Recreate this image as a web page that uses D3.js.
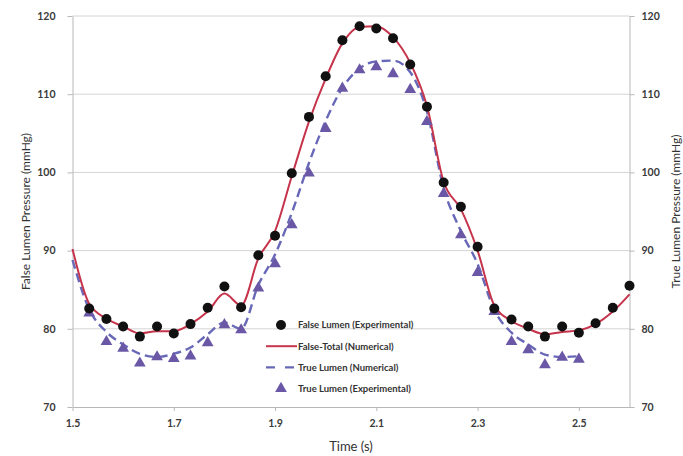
<!DOCTYPE html>
<html>
<head>
<meta charset="utf-8">
<script src="https://cdn.jsdelivr.net/npm/d3@7"></script>
<style>
  body { margin: 0; background: #fff; }
  text { font-family: Lato, "Open Sans", sans-serif; }
</style>
</head>
<body>
<div id="chart"></div>
<script>
// sample times (s)
const expTimes = [1.533, 1.567, 1.600, 1.633, 1.667, 1.700, 1.733, 1.767, 1.800, 1.833,
  1.867, 1.900, 1.933, 1.967, 2.000, 2.033, 2.067, 2.100, 2.133, 2.167,
  2.200, 2.233, 2.267, 2.300, 2.333, 2.367, 2.400, 2.433, 2.467, 2.500,
  2.533, 2.567, 2.600];
const numTimes = [1.500].concat(expTimes);

// False lumen, experimental (circles)
const falseExp = [82.6, 81.25, 80.3, 79.0, 80.3, 79.4, 80.6, 82.7, 85.4, 82.75,
  89.4, 91.9, 99.9, 107.1, 112.3, 116.9, 118.7, 118.4, 117.15, 113.8,
  108.4, 98.7, 95.6, 90.5, 82.6, 81.2, 80.3, 79.0, 80.3, 79.5,
  80.7, 82.7, 85.5];

// False-Total, numerical (solid red)
const falseNum = [90.2, 83.2, 81.3, 80.3, 79.4, 79.7, 79.7, 80.6, 82.2, 84.5, 83.0,
  89.0, 92.5, 99.5, 106.5, 112.0, 116.5, 118.6, 118.7, 117.3, 114.0,
  108.5, 98.8, 95.3, 90.0, 83.0, 81.0, 80.0, 79.3, 79.6, 79.8,
  80.6, 82.2, 84.4];

// True lumen, numerical (dashed) - ends at 2.5 s
const trueNum = [88.8, 82.5, 79.6, 78.0, 76.8, 76.4, 76.8, 77.6, 79.3, 80.8, 80.0,
  85.6, 89.5, 94.8, 101.2, 106.6, 110.8, 113.3, 114.2, 114.3, 112.8,
  107.8, 98.0, 92.5, 88.3, 82.4, 79.5, 78.0, 76.7, 76.4, 76.5];

// True lumen, experimental (triangles)
const trueExp = [82.0, 78.35, 77.5, 75.6, 76.4, 76.2, 76.5, 78.2, 80.5, 79.85,
  85.2, 88.3, 93.3, 99.9, 105.6, 110.75, 113.1, 113.5, 112.6, 110.6,
  106.5, 97.3, 92.0, 87.2, 82.2, 78.35, 77.3, 75.4, 76.35, 76.1];

const xTicks = [1.5, 1.7, 1.9, 2.1, 2.3, 2.5];
const yTicks = [70, 80, 90, 100, 110, 120];

const legendLabels = ["False Lumen (Experimental)", "False-Total (Numerical)",
  "True Lumen (Numerical)", "True Lumen (Experimental)"];

const width = 683, height = 456;
const margin = { top: 16, right: 53.5, bottom: 49, left: 72.5 };

const svg = d3.select("#chart").append("svg")
  .attr("width", width)
  .attr("height", height);

const x = d3.scaleLinear().domain([1.5, 2.6]).range([margin.left, width - margin.right]);
const y = d3.scaleLinear().domain([70, 120]).range([height - margin.bottom, margin.top]);
const y2 = d3.scaleLinear().domain([70, 120]).range([height - margin.bottom, margin.top]);

// gridlines
svg.append("g")
  .selectAll("line")
  .data(yTicks.slice(1))
  .join("line")
  .attr("x1", margin.left)
  .attr("x2", width - margin.right)
  .attr("y1", d => y(d))
  .attr("y2", d => y(d))
  .attr("stroke", "#d4d4d4")
  .attr("stroke-width", 1);

// axes
const axisStyle = g => {
  g.select(".domain").attr("stroke", "#b8b8b8");
  g.selectAll(".tick line").attr("stroke", "#b8b8b8");
  g.selectAll(".tick text")
    .attr("fill", "#3a3a3a")
    .attr("font-size", 10.5)
    .attr("font-weight", "bold")
    .style("font-family", "Lato, sans-serif");
};

svg.append("g")
  .attr("transform", `translate(0,${height - margin.bottom})`)
  .call(d3.axisBottom(x).tickValues(xTicks).tickFormat(d3.format(".1f")).tickSize(4).tickSizeOuter(0).tickPadding(9))
  .call(axisStyle);

svg.append("g")
  .attr("transform", `translate(${margin.left},0)`)
  .call(d3.axisLeft(y).tickValues(yTicks).tickSize(5).tickSizeOuter(0).tickPadding(12))
  .call(axisStyle);

svg.append("g")
  .attr("transform", `translate(${width - margin.right},0)`)
  .call(d3.axisRight(y2).tickValues(yTicks).tickSize(5).tickSizeOuter(0).tickPadding(7))
  .call(axisStyle);

// axis titles
svg.append("text")
  .attr("transform", `translate(27,${(margin.top + height - margin.bottom) / 2}) rotate(-90)`)
  .attr("text-anchor", "middle")
  .attr("dominant-baseline", "middle")
  .attr("font-size", 12)
  .attr("fill", "#333")
  .text("False Lumen Pressure (mmHg)");

svg.append("text")
  .attr("transform", `translate(677,${(margin.top + height - margin.bottom) / 2}) rotate(-90)`)
  .attr("text-anchor", "middle")
  .attr("dominant-baseline", "middle")
  .attr("font-size", 12)
  .attr("fill", "#333")
  .text("True Lumen Pressure (mmHg)");

svg.append("text")
  .attr("x", (margin.left + width - margin.right) / 2)
  .attr("y", 451)
  .attr("text-anchor", "middle")
  .attr("font-size", 13)
  .attr("fill", "#333")
  .text("Time (s)");

// lines
const line = d3.line()
  .x(d => x(d[0]))
  .y(d => y(d[1]))
  .curve(d3.curveMonotoneX);

svg.append("path")
  .datum(d3.zip(numTimes, trueNum))
  .attr("d", line)
  .attr("fill", "none")
  .attr("stroke", "#6868b8")
  .attr("stroke-width", 2.4)
  .attr("stroke-dasharray", "9,5");

svg.append("path")
  .datum(d3.zip(numTimes, falseNum))
  .attr("d", line)
  .attr("fill", "none")
  .attr("stroke", "#c6344c")
  .attr("stroke-width", 2);

// markers
const tri = d3.symbol().type(d3.symbolTriangle).size(60);

svg.append("g")
  .selectAll("path")
  .data(d3.zip(expTimes, trueExp))
  .join("path")
  .attr("d", tri)
  .attr("transform", d => `translate(${x(d[0])},${y(d[1])})`)
  .attr("fill", "#6a58a6");

svg.append("g")
  .selectAll("circle")
  .data(d3.zip(expTimes, falseExp))
  .join("circle")
  .attr("cx", d => x(d[0]))
  .attr("cy", d => y(d[1]))
  .attr("r", 5)
  .attr("fill", "#111");

// legend
const lg = svg.append("g").attr("transform", "translate(266,325)");
const rowH = 21.2;
legendLabels.forEach((label, i) => {
  const row = lg.append("g").attr("transform", `translate(0,${i * rowH})`);
  if (i === 0) {
    row.append("circle").attr("cx", 15).attr("cy", 0).attr("r", 5).attr("fill", "#111");
  } else if (i === 1) {
    row.append("line").attr("x1", 0).attr("x2", 31).attr("stroke", "#c6344c").attr("stroke-width", 2);
  } else if (i === 2) {
    row.append("line").attr("x1", 0).attr("x2", 31).attr("stroke", "#6868b8")
      .attr("stroke-width", 2.4).attr("stroke-dasharray", "9,10");
  } else {
    row.append("path").attr("d", tri).attr("transform", "translate(15,0)").attr("fill", "#6a58a6");
  }
  row.append("text")
    .attr("x", 32)
    .attr("dy", "0.35em")
    .attr("font-size", 9.5)
    .attr("font-weight", "bold")
    .attr("fill", "#333")
    .text(label);
});
</script>
</body>
</html>
